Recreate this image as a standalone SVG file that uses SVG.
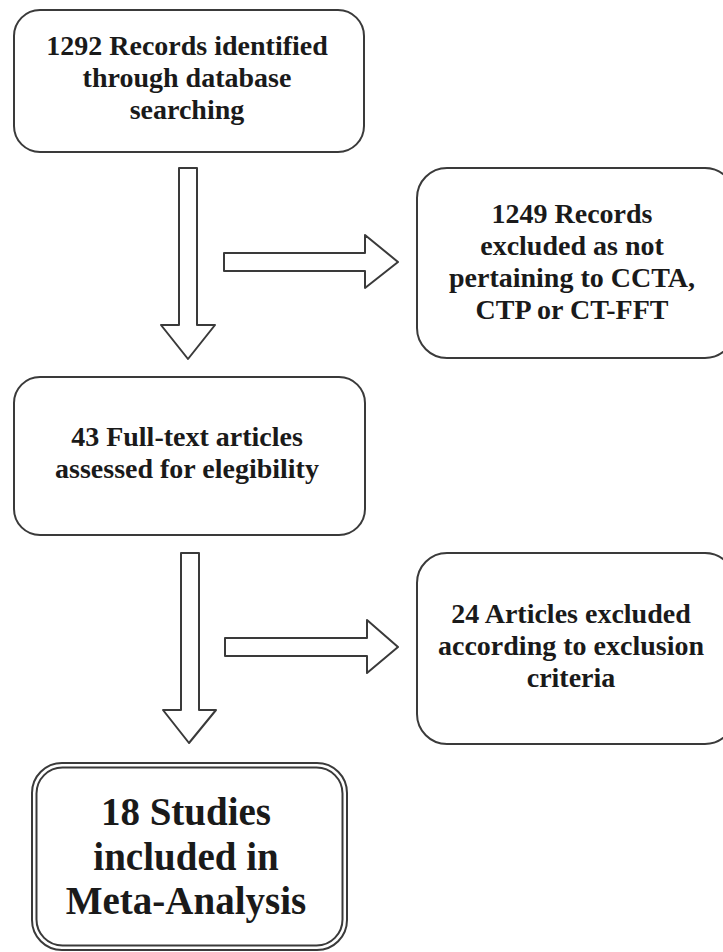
<svg xmlns="http://www.w3.org/2000/svg" width="723" height="952" viewBox="0 0 723 952">
<style>
.box{fill:#ffffff;stroke:#3a3a3a;stroke-width:2}
.arr{fill:#ffffff;stroke:#3a3a3a;stroke-width:2;stroke-linejoin:round}
.t{font-family:"Liberation Serif","Times New Roman",serif;font-weight:bold;font-size:28px;fill:#1a1a1a;text-anchor:middle}
.big{font-size:39px}
</style>
<rect x="0" y="0" width="723" height="952" fill="#ffffff"/>
<g id="connectors">
<polygon class="arr" points="179,168 197,168 197,325 215,325 188,359 161,325 179,325"/>
<polygon class="arr" points="224,253 365,253 365,235 398,262 365,288 365,271 224,271"/>
<polygon class="arr" points="181,553 199,553 199,710 216,710 189,743 163,710 181,710"/>
<polygon class="arr" points="225,638 367,638 367,620 398,647 367,673 367,656 225,656"/>
</g>
<g id="n1">
<rect class="box" x="14" y="10" width="350" height="142" rx="26"/>
<text class="t" x="187" y="55">1292 Records identified</text>
<text class="t" x="187" y="87">through database</text>
<text class="t" x="187" y="119">searching</text>
</g>
<g id="n2">
<rect class="box" x="417" y="168" width="318" height="190" rx="30"/>
<text class="t" x="572" y="223">1249 Records</text>
<text class="t" x="572" y="255">excluded as not</text>
<text class="t" x="572" y="287">pertaining to CCTA,</text>
<text class="t" x="572" y="319">CTP or CT-FFT</text>
</g>
<g id="n3">
<rect class="box" x="14" y="377" width="351" height="158" rx="26"/>
<text class="t" x="187" y="446">43 Full-text articles</text>
<text class="t" x="187" y="478">assessed for elegibility</text>
</g>
<g id="n4">
<rect class="box" x="417" y="553" width="318" height="191" rx="30"/>
<text class="t" x="571" y="623">24 Articles excluded</text>
<text class="t" x="571" y="655">according to exclusion</text>
<text class="t" x="571" y="687">criteria</text>
</g>
<g id="n5">
<rect class="box" x="32" y="763" width="315" height="187" rx="30"/>
<rect class="box" x="36.5" y="767.5" width="306" height="178" rx="26"/>
<text class="t big" x="186" y="825">18 Studies</text>
<text class="t big" x="186" y="870">included in</text>
<text class="t big" x="186" y="914">Meta-Analysis</text>
</g>
</svg>
